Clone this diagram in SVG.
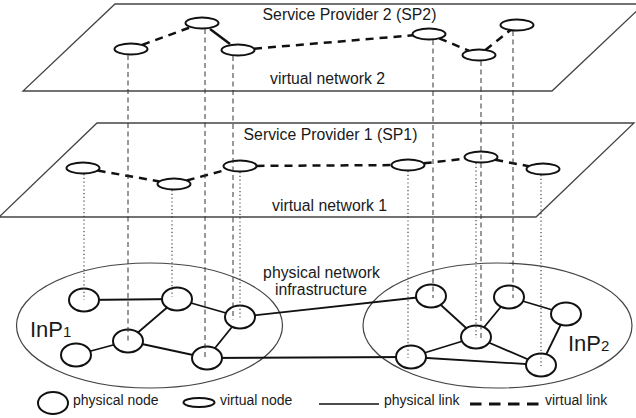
<svg xmlns="http://www.w3.org/2000/svg" width="636" height="418" viewBox="0 0 636 418">
<style>
.plane{fill:#fff;stroke:#444;stroke-width:1.3}
.region{fill:none;stroke:#444;stroke-width:1.2}
.t{font-family:"Liberation Sans",Arial,sans-serif;fill:#1a1a1a}
.title{font-size:15.8px}
.leg{font-size:14px}
.big{font-size:22px}
.sub{font-size:15px}
.pnode{fill:#fff;stroke:#111;stroke-width:2}
.vnode{fill:#fff;stroke:#111;stroke-width:2}
.plink{stroke:#111;stroke-width:1.8;fill:none}
.vlink{stroke:#111;stroke-width:2.5;stroke-dasharray:8 6;fill:none}
.map2{stroke:#333;stroke-width:1;stroke-dasharray:5 3.5;fill:none}
.map1{stroke:#333;stroke-width:1.1;stroke-dasharray:1.2 2.6;fill:none}
</style>

<g id="plane-sp2">
<polygon class="plane" points="115,4 644,4 552,91 23,91"/>
<text class="t title" x="349.5" y="20" text-anchor="middle">Service Provider 2 (SP2)</text>
<text class="t title" x="327.5" y="84" text-anchor="middle">virtual network 2</text>
</g>
<g id="plane-sp1">
<polygon class="plane" points="97,123 634,123 536,217 -1,217"/>
<text class="t title" x="330.5" y="140" text-anchor="middle">Service Provider 1 (SP1)</text>
<text class="t title" x="329.5" y="211" text-anchor="middle">virtual network 1</text>
</g>

<g id="inp1">
<ellipse class="region" cx="149.5" cy="325.5" rx="133" ry="62.5"/>
<text class="t big" x="30" y="337">InP<tspan class="sub">1</tspan></text>
</g>
<g id="inp2">
<ellipse class="region" cx="497.5" cy="325.5" rx="134.5" ry="62.5"/>
<text class="t big" x="568" y="351">InP<tspan class="sub">2</tspan></text>
</g>
<g id="infra-label">
<text class="t title" x="321.5" y="278" text-anchor="middle">physical network</text>
<text class="t title" x="321" y="295" text-anchor="middle">infrastructure</text>
</g>

<g id="links">
<!-- physical links -->
<line class="plink" x1="84" y1="300" x2="177" y2="299"/>
<line class="plink" x1="177" y1="299" x2="240" y2="317"/>
<line class="plink" x1="177" y1="299" x2="128" y2="341"/>
<line class="plink" x1="128" y1="341" x2="76" y2="355"/>
<line class="plink" x1="128" y1="341" x2="207" y2="358"/>
<line class="plink" x1="207" y1="358" x2="240" y2="317"/>
<line class="plink" x1="240" y1="317" x2="431" y2="296"/>
<line class="plink" x1="207" y1="358" x2="411" y2="357"/>
<line class="plink" x1="431" y1="296" x2="476" y2="337"/>
<line class="plink" x1="509" y1="297" x2="476" y2="337"/>
<line class="plink" x1="509" y1="297" x2="566" y2="314"/>
<line class="plink" x1="566" y1="314" x2="541" y2="365"/>
<line class="plink" x1="476" y1="337" x2="541" y2="365"/>
<line class="plink" x1="476" y1="337" x2="411" y2="357"/>
<line class="plink" x1="411" y1="357" x2="541" y2="365"/>
<!-- virtual links SP2 -->
<line class="vlink" x1="142.1" y1="44.9" x2="190.9" y2="27.1"/>
<line class="vlink" x1="210" y1="29" x2="230" y2="44" style="stroke-dasharray:none"/>
<line class="vlink" x1="254" y1="48.7" x2="413" y2="35.3"/>
<line class="vlink" x1="439.2" y1="38.3" x2="468.8" y2="50.7"/>
<line class="vlink" x1="485.4" y1="49.9" x2="510.6" y2="30.1"/>
<!-- virtual links SP1 -->
<line class="vlink" x1="97.6" y1="170.6" x2="159.4" y2="181.4"/>
<line class="vlink" x1="186.7" y1="180.5" x2="227.3" y2="169.5"/>
<line class="vlink" x1="256.5" y1="165.9" x2="391.5" y2="165.1"/>
<line class="vlink" x1="423.7" y1="163.3" x2="465.3" y2="158.7"/>
<line class="vlink" x1="495.2" y1="159.8" x2="528.8" y2="166.2"/>
</g>

<!-- physical nodes -->
<g id="pA"><ellipse class="pnode" cx="84" cy="300" rx="15" ry="11.5"/></g>
<g id="pB"><ellipse class="pnode" cx="177" cy="299" rx="15" ry="11.5"/></g>
<g id="pC"><ellipse class="pnode" cx="240" cy="317" rx="15" ry="11.5"/></g>
<g id="pD"><ellipse class="pnode" cx="128" cy="341" rx="15" ry="11.5"/></g>
<g id="pE"><ellipse class="pnode" cx="76" cy="355" rx="15" ry="11.5"/></g>
<g id="pF"><ellipse class="pnode" cx="207" cy="358" rx="15" ry="11.5"/></g>
<g id="pG"><ellipse class="pnode" cx="431" cy="296" rx="15" ry="11.5"/></g>
<g id="pH"><ellipse class="pnode" cx="509" cy="297" rx="15" ry="11.5"/></g>
<g id="pI"><ellipse class="pnode" cx="566" cy="314" rx="15" ry="11.5"/></g>
<g id="pJ"><ellipse class="pnode" cx="476" cy="337" rx="15" ry="11.5"/></g>
<g id="pK"><ellipse class="pnode" cx="411" cy="357" rx="15" ry="11.5"/></g>
<g id="pL"><ellipse class="pnode" cx="541" cy="365" rx="15" ry="11.5"/></g>

<!-- virtual nodes SP2 -->
<g id="v2-1"><ellipse class="vnode" cx="131" cy="49" rx="16.5" ry="5.5"/></g>
<g id="v2-2"><ellipse class="vnode" cx="202" cy="23" rx="16.5" ry="5.5"/></g>
<g id="v2-3"><ellipse class="vnode" cx="238" cy="50" rx="16.5" ry="5.5"/></g>
<g id="v2-4"><ellipse class="vnode" cx="429" cy="34" rx="16.5" ry="5.5"/></g>
<g id="v2-5"><ellipse class="vnode" cx="479" cy="55" rx="16.5" ry="5.5"/></g>
<g id="v2-6"><ellipse class="vnode" cx="517" cy="25" rx="16.5" ry="5.5"/></g>
<!-- virtual nodes SP1 -->
<g id="v1-1"><ellipse class="vnode" cx="83" cy="168" rx="16.5" ry="5.5"/></g>
<g id="v1-2"><ellipse class="vnode" cx="174" cy="184" rx="16.5" ry="5.5"/></g>
<g id="v1-3"><ellipse class="vnode" cx="240" cy="166" rx="16.5" ry="5.5"/></g>
<g id="v1-4"><ellipse class="vnode" cx="408" cy="165" rx="16.5" ry="5.5"/></g>
<g id="v1-5"><ellipse class="vnode" cx="481" cy="157" rx="16.5" ry="5.5"/></g>
<g id="v1-6"><ellipse class="vnode" cx="543" cy="169" rx="16.5" ry="5.5"/></g>

<g id="mappings">
<line class="map2" x1="128" y1="55" x2="128" y2="341"/>
<line class="map2" x1="205" y1="29" x2="205" y2="357"/>
<line class="map2" x1="233" y1="56" x2="233" y2="320"/>
<line class="map2" x1="433" y1="40" x2="433" y2="298"/>
<line class="map2" x1="481" y1="61" x2="481" y2="340"/>
<line class="map2" x1="513" y1="31" x2="513" y2="298"/>
<line class="map1" x1="84" y1="174" x2="84" y2="300"/>
<line class="map1" x1="172" y1="190" x2="172" y2="297"/>
<line class="map1" x1="240" y1="172" x2="240" y2="318"/>
<line class="map1" x1="408" y1="171" x2="408" y2="358"/>
<line class="map1" x1="476" y1="163" x2="476" y2="338"/>
<line class="map1" x1="541" y1="175" x2="541" y2="366"/>
</g>

<g id="legend">
<ellipse class="pnode" cx="53" cy="403" rx="15" ry="11"/>
<text class="t leg" x="73" y="405">physical node</text>
<ellipse class="vnode" cx="199" cy="402.5" rx="15.5" ry="4.5"/>
<text class="t leg" x="220" y="405">virtual node</text>
<line class="plink" x1="319" y1="404" x2="379" y2="404" style="stroke-width:1.5"/>
<text class="t leg" x="384" y="405">physical link</text>
<line class="vlink" x1="470" y1="404" x2="539" y2="404" style="stroke-dasharray:11.5 7.5;stroke-width:2.8"/>
<text class="t leg" x="545" y="405">virtual link</text>
</g>
</svg>
